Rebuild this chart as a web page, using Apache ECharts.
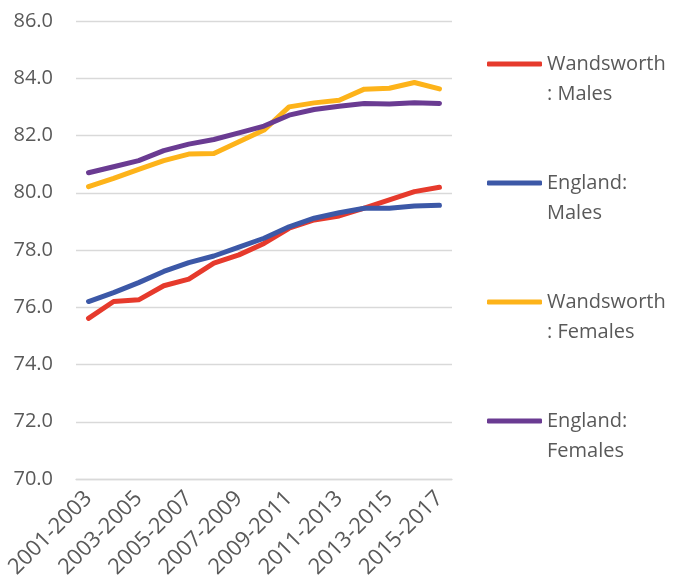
<!DOCTYPE html>
<html>
<head>
<meta charset="utf-8">
<script src="https://cdn.jsdelivr.net/npm/echarts@6/dist/echarts.min.js"></script>
<style>
  html, body { margin: 0; padding: 0; background: #fff; }
  #chart { width: 674px; height: 584px; }
</style>
</head>
<body>
<div id="chart"></div>
<script>
// Life expectancy at birth, three-year rolling periods
const periods = [
  '2001-2003', '2002-2004', '2003-2005', '2004-2006', '2005-2007',
  '2006-2008', '2007-2009', '2008-2010', '2009-2011', '2010-2012',
  '2011-2013', '2012-2014', '2013-2015', '2014-2016', '2015-2017'
];
const wandsworthMales   = [75.61, 76.20, 76.26, 76.75, 76.98, 77.54, 77.83, 78.23, 78.76, 79.05, 79.19, 79.46, 79.75, 80.04, 80.19];
const englandMales      = [76.20, 76.51, 76.86, 77.25, 77.56, 77.79, 78.10, 78.41, 78.81, 79.11, 79.30, 79.46, 79.46, 79.54, 79.56];
const wandsworthFemales = [80.21, 80.50, 80.82, 81.12, 81.35, 81.37, 81.78, 82.19, 83.00, 83.14, 83.23, 83.62, 83.65, 83.85, 83.63];
const englandFemales    = [80.70, 80.91, 81.12, 81.47, 81.70, 81.86, 82.09, 82.33, 82.71, 82.91, 83.02, 83.12, 83.10, 83.14, 83.12];

const seriesNames = ['Wandsworth: Males', 'England: Males', 'Wandsworth: Females', 'England: Females'];
// Legend labels wrap onto two lines; a leading blank line keeps the first
// line level with the legend stroke.
const legendLabels = {
  'Wandsworth: Males': ' \nWandsworth\n: Males',
  'England: Males': ' \nEngland:\nMales',
  'Wandsworth: Females': ' \nWandsworth\n: Females',
  'England: Females': ' \nEngland:\nFemales'
};
const colors = ['#E63A2C', '#3C58A7', '#FDB31A', '#6A3B92'];
const values = [wandsworthMales, englandMales, wandsworthFemales, englandFemales];

const FONT = '"Open Sans", "Liberation Sans", sans-serif';
const TEXT = '#595959';

const chart = echarts.init(document.getElementById('chart'), null, { renderer: 'canvas' });

chart.setOption({
  animation: false,
  color: colors,
  grid: { left: 76, right: 222, top: 21, bottom: 105, containLabel: false },
  legend: {
    orient: 'vertical',
    left: 487,
    top: 19,
    padding: 0,
    icon: 'roundRect',
    itemWidth: 55,
    itemHeight: 5,
    itemGap: 29,
    data: seriesNames,
    formatter: (name) => legendLabels[name],
    textStyle: {
      fontFamily: FONT,
      fontSize: 20,
      color: TEXT,
      lineHeight: 30
    }
  },
  xAxis: {
    type: 'category',
    data: periods,
    boundaryGap: true,
    axisLine: { show: true, lineStyle: { color: '#D9D9D9', width: 1.3 } },
    axisTick: { show: false },
    axisLabel: {
      interval: 1,
      rotate: 45,
      margin: 16,
      fontFamily: FONT,
      fontSize: 22,
      color: TEXT
    }
  },
  yAxis: {
    type: 'value',
    min: 70,
    max: 86,
    interval: 2,
    axisLine: { show: false },
    axisTick: { show: false },
    splitLine: { lineStyle: { color: '#D9D9D9', width: 1.3 } },
    axisLabel: {
      margin: 23,
      fontFamily: FONT,
      fontSize: 20,
      color: TEXT,
      formatter: (v) => v.toFixed(1)
    }
  },
  series: seriesNames.map((name, i) => ({
    name: name,
    type: 'line',
    data: values[i],
    symbol: 'none',
    smooth: false,
    lineStyle: { width: 5, color: colors[i], cap: 'round', join: 'round' },
    itemStyle: { color: colors[i] }
  }))
});
</script>
</body>
</html>
